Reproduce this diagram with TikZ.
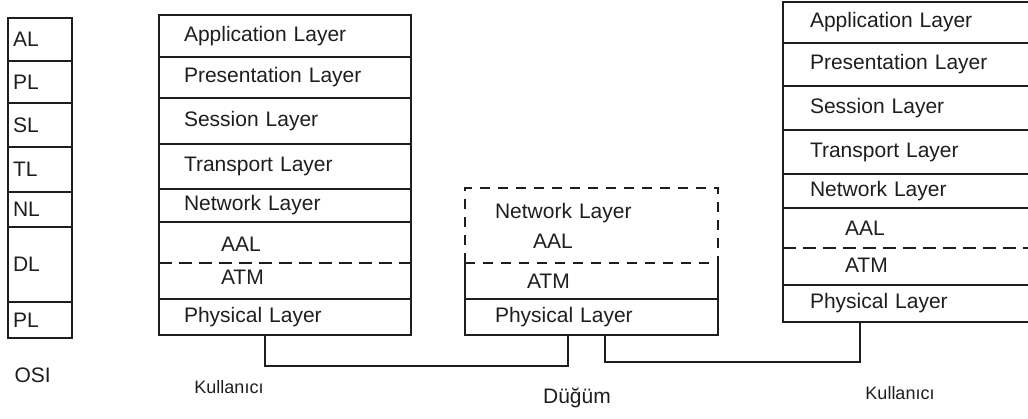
\documentclass[tikz,border=0pt]{standalone}
\usepackage{fontspec}
\setmainfont{Liberation Sans}
\usetikzlibrary{positioning}
\definecolor{ScanInk}{RGB}{30,30,30}
\newcommand{\layerfont}{\fontsize{21}{24}\selectfont}
\newcommand{\namefont}{\fontsize{18}{22}\selectfont}
\tikzset{
  band/.style={draw=ScanInk,line width=1.3pt,outer sep=0pt,align=left,
    inner ysep=1pt,text=ScanInk,font=\layerfont},
  osiband/.style={band,minimum width=64pt,inner xsep=5pt,text width=54pt},
  lband/.style={band,minimum width=252pt,inner xsep=25pt,text width=202pt},
  nband/.style={band,minimum width=253pt,inner xsep=30pt,text width=193pt},
  rband/.style={band,minimum width=262pt,inner xsep=27pt,text width=208pt},
  cutline/.style={draw=ScanInk,line width=1.3pt,dash pattern=on 13pt off 7pt},
  nodedash/.style={draw=ScanInk,line width=1.3pt,dash pattern=on 10pt off 8pt},
  wire/.style={draw=ScanInk,line width=2.4pt},
  caption/.style={text=ScanInk,font=\layerfont}
}

\begin{document}
\begin{tikzpicture}[x=1pt,y=-1pt]
  \useasboundingbox (0,0) rectangle (1028,419);
  \clip (0,0) rectangle (1028,419);

  % OSI column
  \node[osiband,anchor=north west,minimum height=43pt] (oal) at (8,18) {AL};
  \node[osiband,below=0pt of oal,minimum height=42pt] (opl) {PL};
  \node[osiband,below=0pt of opl,minimum height=44pt] (osl) {SL};
  \node[osiband,below=0pt of osl,minimum height=45pt] (otl) {TL};
  \node[osiband,below=0pt of otl,minimum height=35pt] (onl) {NL};
  \node[osiband,below=0pt of onl,minimum height=75pt] (odl) {DL\\[14pt]};
  \node[osiband,below=0pt of odl,minimum height=36pt] (ophy) {PL};
  \node[caption,anchor=west] (osi) at (11,375) {OSI};

  % left user stack
  \node[lband,anchor=north west,minimum height=42pt] (lapp) at (159,15) {Application Layer};
  \node[lband,below=0pt of lapp,minimum height=41pt] (lpre) {Presentation Layer};
  \node[lband,below=0pt of lpre,minimum height=46pt] (lses) {Session Layer};
  \node[lband,below=0pt of lses,minimum height=45pt] (ltra) {Transport Layer};
  \node[lband,below=0pt of ltra,minimum height=33pt] (lnet) {Network Layer};
  \node[lband,below=0pt of lnet,minimum height=77pt,inner xsep=62pt,text width=128pt] (lmid) {AAL\\[9pt]ATM};
  \node[lband,below=0pt of lmid,minimum height=36pt] (lphy) {Physical Layer};
  \draw[cutline] ([yshift=-41pt]lmid.north west) -- ([yshift=-41pt]lmid.north east);
  \node[caption,font=\namefont] (userl) at (229,387) {Kullanıcı};

  % switching node
  \node[nband,draw=none,anchor=north west,minimum height=75pt] (nup) at (465,188) {Network Layer\\[6pt]\hspace*{38pt}AAL};
  \node[nband,draw=none,below=0pt of nup,minimum height=36pt,inner xsep=62pt,text width=129pt] (natm) {ATM};
  \node[nband,below=0pt of natm,minimum height=36pt] (nphy) {Physical Layer};
  \draw[nodedash] (nup.south west) -- (nup.north west) -- (nup.north east) -- (nup.south east);
  \draw[nodedash,line width=2pt] (nup.south west) -- (nup.south east);
  \draw[draw=ScanInk,line width=1.3pt] (natm.north west) -- (natm.south west)
    (natm.north east) -- (natm.south east);
  \node[caption] (dugum) at (577,398) {Düğüm};

  % right user stack
  \node[rband,anchor=north west,minimum height=41pt] (rapp) at (783,2) {Application Layer};
  \node[rband,below=0pt of rapp,minimum height=43pt] (rpre) {Presentation Layer};
  \node[rband,below=0pt of rpre,minimum height=44pt] (rses) {Session Layer};
  \node[rband,below=0pt of rses,minimum height=44pt] (rtra) {Transport Layer};
  \node[rband,below=0pt of rtra,minimum height=34pt] (rnet) {Network Layer};
  \node[rband,below=0pt of rnet,minimum height=77pt,inner xsep=62pt,text width=138pt] (rmid) {AAL\\[13pt]ATM};
  \node[rband,below=0pt of rmid,minimum height=37pt] (rphy) {Physical Layer};
  \draw[cutline] ([yshift=-40pt]rmid.north west) -- ([yshift=-40pt]rmid.north east);
  \node[caption,font=\namefont] (userr) at (900,393) {Kullanıcı};

  % physical links
  \draw[wire] ([xshift=-20pt]lphy.south) -- ++(0,31) -| ([xshift=-23.5pt]nphy.south);
  \draw[wire] ([xshift=13.5pt]nphy.south) -- ++(0,27) -| ([xshift=77pt]rphy.south west);
\end{tikzpicture}
\end{document}
